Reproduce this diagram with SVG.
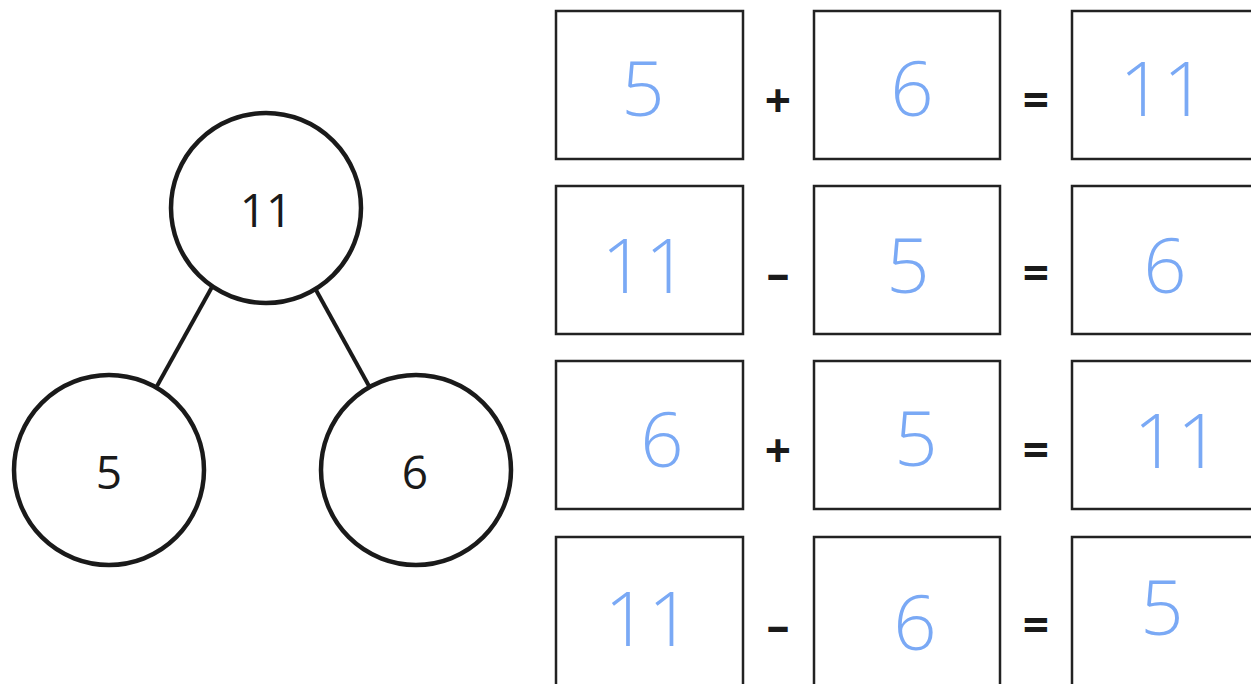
<svg xmlns="http://www.w3.org/2000/svg" width="1251" height="684" viewBox="0 0 1251 684">
<style>
.c{fill:#fff;stroke:#1a1a1a;stroke-width:4.5}
.b{fill:#fff;stroke:#222;stroke-width:2.5}
.l{stroke:#1a1a1a;stroke-width:4}
.t{font-family:"Open Sans","Noto Sans",sans-serif;font-size:46px;font-weight:500;fill:#1a1a1a;text-anchor:middle;dominant-baseline:central}
.o{font-family:"Open Sans","Noto Sans",sans-serif;font-size:46px;font-weight:bold;fill:#1a1a1a;text-anchor:middle;dominant-baseline:central}
.h{font-family:"Open Sans","Noto Sans",sans-serif;font-size:76px;font-weight:300;fill:#7aa9f5;text-anchor:middle;dominant-baseline:central}
</style>
<rect width="1251" height="684" fill="#fff"/>
<g id="connectors">
<line class="l" x1="212" y1="287" x2="157" y2="386"/>
<line class="l" x1="316" y1="290" x2="369" y2="386"/>
</g>
<g id="whole"><circle class="c" cx="266" cy="208" r="95"/><text class="t" x="266" y="209">11</text></g>
<g id="part1"><circle class="c" cx="109" cy="470" r="95"/><text class="t" x="109" y="471">5</text></g>
<g id="part2"><circle class="c" cx="416" cy="470" r="95"/><text class="t" x="415" y="471">6</text></g>
<g id="row1">
<rect class="b" x="556" y="11" width="187" height="148"/>
<rect class="b" x="814" y="11" width="186" height="148"/>
<rect class="b" x="1072" y="11" width="190" height="148"/>
<text class="h" x="643" y="86">5</text>
<text class="h" x="912" y="86">6</text>
<text class="h" x="1163" y="86">11</text>
<text class="o" x="778" y="99">+</text>
<text class="o" x="1036" y="99">=</text>
</g>
<g id="row2">
<rect class="b" x="556" y="186" width="187" height="148"/>
<rect class="b" x="814" y="186" width="186" height="148"/>
<rect class="b" x="1072" y="186" width="190" height="148"/>
<text class="h" x="645" y="263">11</text>
<text class="h" x="908" y="263">5</text>
<text class="h" x="1165" y="263">6</text>
<text class="o" x="778" y="272">–</text>
<text class="o" x="1036" y="272">=</text>
</g>
<g id="row3">
<rect class="b" x="556" y="361" width="187" height="148"/>
<rect class="b" x="814" y="361" width="186" height="148"/>
<rect class="b" x="1072" y="361" width="190" height="148"/>
<text class="h" x="662" y="437">6</text>
<text class="h" x="916" y="436">5</text>
<text class="h" x="1177" y="438">11</text>
<text class="o" x="778" y="449">+</text>
<text class="o" x="1036" y="449">=</text>
</g>
<g id="row4">
<rect class="b" x="556" y="537" width="187" height="160"/>
<rect class="b" x="814" y="537" width="186" height="160"/>
<rect class="b" x="1072" y="537" width="190" height="160"/>
<text class="h" x="648" y="616">11</text>
<text class="h" x="915" y="620">6</text>
<text class="h" x="1162" y="605">5</text>
<text class="o" x="778" y="624">–</text>
<text class="o" x="1036" y="624">=</text>
</g>
</svg>
